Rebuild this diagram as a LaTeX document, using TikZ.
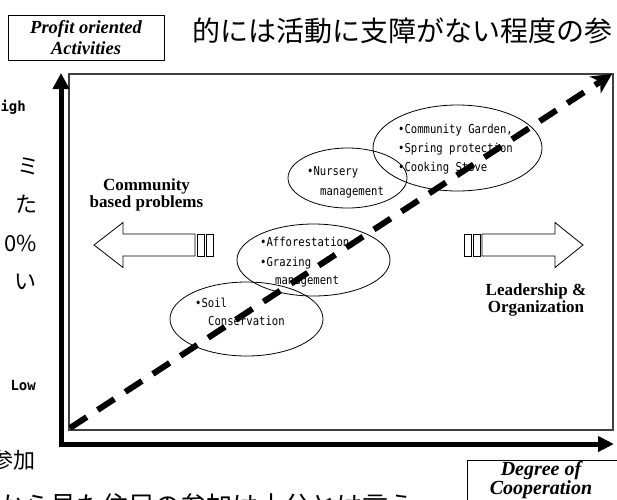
\documentclass[tikz,border=0pt]{standalone}
\usepackage{fontspec}
\setmainfont{Liberation Serif}
\newfontfamily\jp{Noto Sans CJK JP}
\newfontfamily\gothic[FakeStretch=0.86]{DejaVu Sans Mono}
\newfontfamily\monob{DejaVu Sans Mono}
\usetikzlibrary{arrows.meta,shapes.geometric}
\tikzset{
  axisline/.style={line width=5pt, line join=miter, {Triangle[length=16pt,width=16pt]}-{Triangle[length=16pt,width=15pt]}},
  frameline/.style={draw=black!75, line width=1.2pt},
  blockarrow/.style={draw, line width=0.8pt, fill=white, line join=miter},
  oval/.style={draw, ellipse, line width=0.8pt, inner sep=0pt},
  lbl/.style={font=\gothic\fontsize{12.3}{14}\selectfont, anchor=west, inner sep=0pt},
  hdr/.style={font=\bfseries\fontsize{17}{15}\selectfont, align=center, inner sep=0pt},
  boxlbl/.style={draw, line width=0.8pt, font=\bfseries\itshape\fontsize{18.5}{21}\selectfont, align=center, inner sep=0pt},
  jptext/.style={font=\jp\fontsize{#1}{#1}\selectfont, inner sep=0pt},
  smallb/.style={font=\monob\bfseries\fontsize{14}{14}\selectfont, inner sep=0pt},
  dasharrow/.style={line width=6pt, dash pattern=on 20pt off 13pt, -{Stealth[length=20pt,width=20pt,inset=6pt]}}
}
\begin{document}
\begin{tikzpicture}[x=1pt,y=-1pt]
\path[use as bounding box, clip] (0,0) rectangle (617,499);
\fill[white] (0,0) rectangle (617,499);

% top header
\node[boxlbl, minimum width=156pt, minimum height=45pt] (profit) at (86,37.5) {Profit oriented\\Activities};
\node[jptext=28, anchor=west] (jtop) at (192,30.5) {的には活動に支障がない程度の参};

% left margin fragments
\node[smallb, anchor=east] (high) at (26,107) {High};
\node[jptext=22, anchor=east] (j1) at (40,166) {ミ};
\node[jptext=22, anchor=east] (j2) at (38,204) {た};
\node[jptext=22, anchor=east] (j3) at (37,243) {0\%};
\node[jptext=22, anchor=east] (j4) at (37,282) {い};
\node[smallb, anchor=east] (low) at (36,385) {Low};
\node[jptext=22, anchor=east] (j5) at (36,460) {参加};
\node[jptext=26, anchor=west] (jbot) at (-2,506) {から見た住民の参加は十分とは言え};

% inner frame
\draw[frameline] (69,74) rectangle (613,430);

% axes
\coordinate (ytip) at (61,73);
\coordinate (orig) at (61,444);
\coordinate (xtip) at (614,444);
\draw[axisline] (ytip) -- (orig) -- (xtip);

% block arrows
\draw[blockarrow] (94,245) -- (123,222.5) -- (123,234) -- (195,234) -- (195,256) -- (123,256) -- (123,267.5) -- cycle;
\draw[blockarrow] (197,234) rectangle (204,256);
\draw[blockarrow] (206,234) rectangle (213,256);
\draw[blockarrow] (583,245) -- (555,222.5) -- (555,234) -- (482,234) -- (482,256) -- (555,256) -- (555,267.5) -- cycle;
\draw[blockarrow] (464,234) rectangle (471,256);
\draw[blockarrow] (473,234) rectangle (480,256);

\node[hdr] (cbp) at (146.5,195) {Community\\based problems};
\node[hdr] (lead) at (536,300) {Leadership \&\\Organization};

% ellipses
\node[oval, minimum width=153pt, minimum height=74pt] (soil) at (246.5,319) {};
\node[oval, minimum width=153pt, minimum height=72pt] (affo) at (313.5,260) {};
\node[oval, minimum width=119pt, minimum height=60pt] (nurs) at (347.5,178) {};
\node[oval, minimum width=169pt, minimum height=86pt] (gard) at (457.5,148) {};

\node[lbl] (t1) at (195,303) {•Soil};
\node[lbl] (t2) at (208,321) {Conservation};
\node[lbl] (t3) at (260,243) {•Afforestation,};
\node[lbl] (t4) at (260,263) {•Grazing};
\node[lbl] (t5) at (275,281) {management};
\node[lbl] (t6) at (307,172) {•Nursery};
\node[lbl] (t7) at (320,192) {management};
\node[lbl] (t8) at (398,130) {•Community Garden,};
\node[lbl] (t9) at (398,149) {•Spring protection};
\node[lbl] (t10) at (398,168) {•Cooking Stove};

% dashed trend arrow
\coordinate (dstart) at (70,428);
\coordinate (dend) at (612,74);
\draw[dasharrow] (dstart) -- (dend);

% bottom-right box
\node[draw, line width=0.8pt, anchor=north west, minimum width=170pt, minimum height=60pt, inner sep=0pt] (degbox) at (467,460) {};
\node[font=\bfseries\itshape\fontsize{20}{19}\selectfont, align=center, inner sep=0pt] (deg) at (541,480) {Degree of\\Cooperation};
\end{tikzpicture}
\end{document}
